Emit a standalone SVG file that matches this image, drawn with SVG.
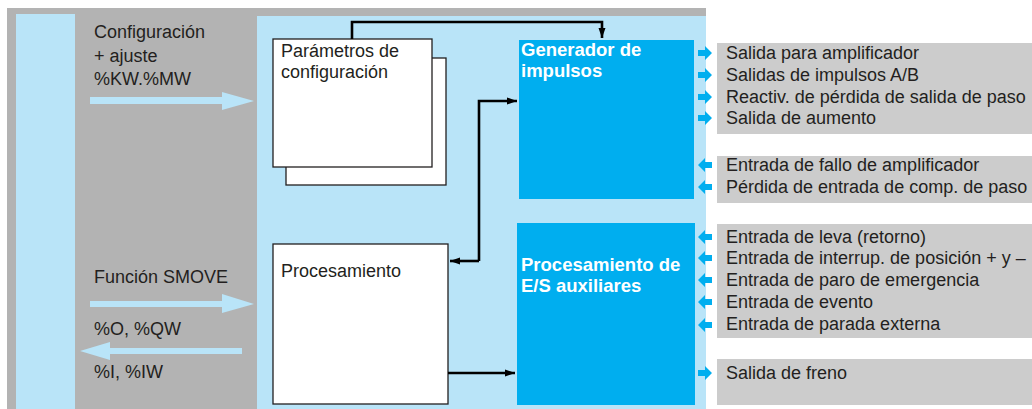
<svg xmlns="http://www.w3.org/2000/svg" width="1032" height="409" viewBox="0 0 1032 409">
<style>
text{font-family:"Liberation Sans",Arial,sans-serif;font-size:18px;fill:#231f20}
.w{fill:#ffffff;font-weight:bold;font-size:18.5px}
.box{fill:#ffffff;stroke:#231f20;stroke-width:1.3}
.blue{fill:#00aeef}
.panel{fill:#cccccc}
.con{fill:none;stroke:#000;stroke-width:2.6}
.sa{fill:#00aeef}
.la{fill:#b9e4f8}
</style>
<defs>
<marker id="ah" viewBox="0 0 10 10" refX="10" refY="5" markerWidth="4" markerHeight="4" orient="auto" markerUnits="strokeWidth">
<path d="M0,1.5 L10,5 L0,8.5 z" fill="#000"/>
</marker>
<path id="ro" d="M0,-3 H7 V-7 L14,0 L7,7 V3 H0 z"/>
<path id="lo" d="M14,-3 H7 V-7 L0,0 L7,7 V3 H14 z"/>
</defs>
<rect x="7" y="8" width="699" height="401" fill="#b3b3b3"/>
<rect x="16" y="14" width="59" height="395" fill="#b9e4f8"/>
<rect x="257" y="16" width="449" height="393" fill="#b9e4f8"/>
<g id="panels">
<rect class="panel" x="717" y="43" width="315" height="91"/>
<rect class="panel" x="717" y="156" width="315" height="47"/>
<rect class="panel" x="717" y="224" width="315" height="114"/>
<rect class="panel" x="717" y="359" width="315" height="46"/>
</g>
<g id="left-labels">
<text x="94" y="38">Configuración</text>
<text x="94" y="62">+ ajuste</text>
<text x="94" y="85">%KW.%MW</text>
<path class="la" d="M90,97 H222 V92 L254,101 L222,110 V104 H90 z"/>
<text x="94" y="283">Función SMOVE</text>
<path class="la" d="M90,301 H222 V294 L254,304 L222,313 V307 H90 z"/>
<text x="94" y="335">%O, %QW</text>
<path class="la" d="M242,348 H110 V342 L80,351 L110,360 V354 H242 z"/>
<text x="94" y="378">%I, %IW</text>
</g>
<g id="parametros">
<rect class="box" x="286" y="58" width="160" height="127"/>
<rect class="box" x="273" y="39" width="159" height="128"/>
<text x="281" y="57">Parámetros de</text>
<text x="281" y="78">configuración</text>
</g>
<g id="procesamiento">
<rect class="box" x="273" y="244" width="175" height="160"/>
<text x="281" y="277">Procesamiento</text>
</g>
<g id="generador">
<rect class="blue" x="519" y="40" width="175" height="159"/>
<text class="w" x="521" y="56">Generador de</text>
<text class="w" x="521" y="77">impulsos</text>
</g>
<g id="procesamiento-es">
<rect class="blue" x="517" y="223" width="178" height="182"/>
<text class="w" x="521" y="271">Procesamiento de</text>
<text class="w" x="521" y="292">E/S auxiliares</text>
</g>
<g id="connectors">
<path class="con" d="M352,39 V22 H602 V38" marker-end="url(#ah)"/>
<path class="con" d="M479,261 V101 H517" marker-end="url(#ah)"/>
<path class="con" d="M479,261 H450" marker-end="url(#ah)"/>
<path class="con" d="M448,373 H515" marker-end="url(#ah)"/>
</g>
<g id="io">
<use href="#ro" class="sa" x="698" y="53"/>
<use href="#ro" class="sa" x="698" y="75"/>
<use href="#ro" class="sa" x="698" y="97"/>
<use href="#ro" class="sa" x="698" y="118"/>
<use href="#lo" class="sa" x="698" y="165"/>
<use href="#lo" class="sa" x="698" y="187"/>
<use href="#lo" class="sa" x="698" y="237"/>
<use href="#lo" class="sa" x="698" y="258"/>
<use href="#lo" class="sa" x="698" y="280"/>
<use href="#lo" class="sa" x="698" y="302"/>
<use href="#lo" class="sa" x="698" y="325"/>
<use href="#ro" class="sa" x="698" y="373"/>
<text x="726" y="59">Salida para amplificador</text>
<text x="726" y="81">Salidas de impulsos A/B</text>
<text x="726" y="103">Reactiv. de pérdida de salida de paso</text>
<text x="726" y="124">Salida de aumento</text>
<text x="726" y="171">Entrada de fallo de amplificador</text>
<text x="726" y="193">Pérdida de entrada de comp. de paso</text>
<text x="726" y="243">Entrada de leva (retorno)</text>
<text x="726" y="264">Entrada de interrup. de posición + y –</text>
<text x="726" y="286">Entrada de paro de emergencia</text>
<text x="726" y="308">Entrada de evento</text>
<text x="726" y="330">Entrada de parada externa</text>
<text x="726" y="379">Salida de freno</text>
</g>
</svg>
